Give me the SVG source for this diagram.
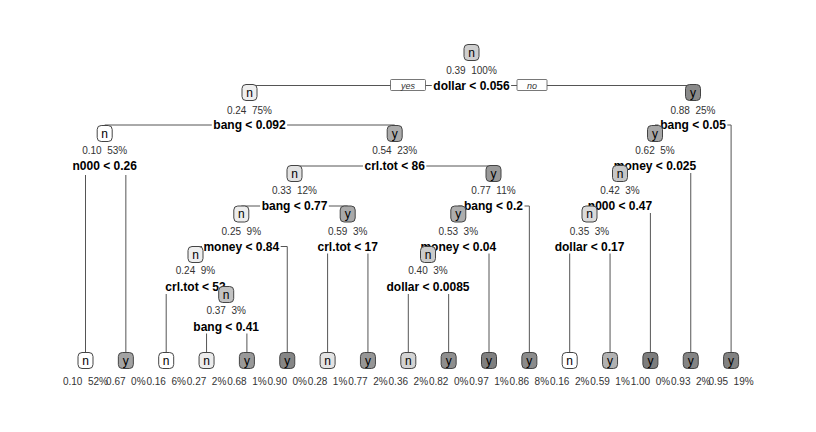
<svg xmlns="http://www.w3.org/2000/svg" width="816" height="432" viewBox="0 0 816 432">
<style>
text{font-family:"Liberation Sans",Arial,sans-serif}
.e{fill:none;stroke:#555;stroke-width:1}
.yn{fill:#fff;stroke:#555;stroke-width:0.8}
.ynt{font-size:9px;font-style:italic;fill:#333;text-anchor:middle}
.b{stroke:#444;stroke-width:1}
.c{font-size:12px;fill:#000;text-anchor:middle}
.s{font-size:10px;fill:#333;text-anchor:middle;white-space:pre}
.sp{font-size:12px;font-weight:bold;fill:#000;text-anchor:middle}
.bg{fill:#fff}
</style>
<rect width="816" height="432" fill="#fff"/>
<g id="connectors">
<path class="e" d="M471.5,85.5H249.5V92.5"/>
<path class="e" d="M471.5,85.5H693V92.5"/>
<path class="e" d="M249.5,125H104.7V133.5"/>
<path class="e" d="M249.5,125H394.7V133.5"/>
<path class="e" d="M693,125H655V133.5"/>
<path class="e" d="M693,125H731.1V360.5"/>
<path class="e" d="M104.7,166H85.5V360.5"/>
<path class="e" d="M104.7,166H125.85V360.5"/>
<path class="e" d="M394.7,166H294.5V173.5"/>
<path class="e" d="M394.7,166H493.5V173.5"/>
<path class="e" d="M655,166H620V173.5"/>
<path class="e" d="M655,166H690.75V360.5"/>
<path class="e" d="M294.5,206H241.3V214"/>
<path class="e" d="M294.5,206H347.7V214"/>
<path class="e" d="M493.5,206H458.3V214"/>
<path class="e" d="M493.5,206H529.35V360.5"/>
<path class="e" d="M620,206H589.5V214"/>
<path class="e" d="M620,206H650.4V360.5"/>
<path class="e" d="M241.3,246.5H195.5V254.5"/>
<path class="e" d="M241.3,246.5H287.25V360.5"/>
<path class="e" d="M347.7,246.5H327.6V360.5"/>
<path class="e" d="M347.7,246.5H367.95V360.5"/>
<path class="e" d="M458.3,246.5H428V254.5"/>
<path class="e" d="M458.3,246.5H489V360.5"/>
<path class="e" d="M589.5,246.5H569.7V360.5"/>
<path class="e" d="M589.5,246.5H610.05V360.5"/>
<path class="e" d="M195.5,287H166.2V360.5"/>
<path class="e" d="M195.5,287H226.2V294.5"/>
<path class="e" d="M428,287H408.3V360.5"/>
<path class="e" d="M428,287H448.65V360.5"/>
<path class="e" d="M226.2,326.5H206.55V360.5"/>
<path class="e" d="M226.2,326.5H246.9V360.5"/>
<rect class="yn" x="390.5" y="79.5" width="35" height="11" rx="1"/>
<text class="ynt" x="408" y="88.5">yes</text>
<rect class="yn" x="517" y="79.5" width="30" height="11" rx="1"/>
<text class="ynt" x="532" y="88.5">no</text>
</g>
<g id="node1">
<rect class="b" x="464" y="44.5" width="15" height="16" rx="4" fill="#cfcfcf"/>
<text class="c" x="471.5" y="56.8">n</text>
<text class="s" x="471.5" y="74">0.39  100%</text>
<rect class="bg" x="431.8" y="78.5" width="79.3" height="14"/>
<text class="sp" x="471.5" y="89.8">dollar &lt; 0.056</text>
</g>
<g id="node2">
<rect class="b" x="242" y="84.5" width="15" height="16" rx="4" fill="#efefef"/>
<text class="c" x="249.5" y="96.8">n</text>
<text class="s" x="249.5" y="113.5">0.24  75%</text>
<rect class="bg" x="211.8" y="118" width="75.3" height="14"/>
<text class="sp" x="249.5" y="129.3">bang &lt; 0.092</text>
</g>
<g id="node3">
<rect class="b" x="685.5" y="84.5" width="15" height="16" rx="4" fill="#8a8a8a"/>
<text class="c" x="693" y="96.8">y</text>
<text class="s" x="693" y="113.5">0.88  25%</text>
<rect class="bg" x="658.6" y="118" width="68.7" height="14"/>
<text class="sp" x="693" y="129.3">bang &lt; 0.05</text>
</g>
<g id="node4">
<rect class="b" x="97.2" y="125.5" width="15" height="16" rx="4" fill="#ffffff"/>
<text class="c" x="104.7" y="137.8">n</text>
<text class="s" x="104.7" y="153.5">0.10  53%</text>
<rect class="bg" x="71" y="159" width="67.3" height="16"/>
<text class="sp" x="104.7" y="170.3">n000 &lt; 0.26</text>
</g>
<g id="node5">
<rect class="b" x="387.2" y="125.5" width="15" height="16" rx="4" fill="#ababab"/>
<text class="c" x="394.7" y="137.8">y</text>
<text class="s" x="394.7" y="153.5">0.54  23%</text>
<rect class="bg" x="363" y="159" width="63.3" height="14"/>
<text class="sp" x="394.7" y="170.3">crl.tot &lt; 86</text>
</g>
<g id="node6">
<rect class="b" x="647.5" y="125.5" width="15" height="16" rx="4" fill="#a6a6a6"/>
<text class="c" x="655" y="137.8">y</text>
<text class="s" x="655" y="153.5">0.62  5%</text>
<rect class="bg" x="612.3" y="159" width="85.3" height="14"/>
<text class="sp" x="655" y="170.3">money &lt; 0.025</text>
</g>
<g id="node10">
<rect class="b" x="287" y="165.5" width="15" height="16" rx="4" fill="#e2e2e2"/>
<text class="c" x="294.5" y="177.8">n</text>
<text class="s" x="294.5" y="194">0.33  12%</text>
<rect class="bg" x="260.1" y="199" width="68.7" height="14"/>
<text class="sp" x="294.5" y="210.3">bang &lt; 0.77</text>
</g>
<g id="node11">
<rect class="b" x="486" y="165.5" width="15" height="16" rx="4" fill="#999999"/>
<text class="c" x="493.5" y="177.8">y</text>
<text class="s" x="493.5" y="194">0.77  11%</text>
<rect class="bg" x="462.5" y="199" width="62" height="14"/>
<text class="sp" x="493.5" y="210.3">bang &lt; 0.2</text>
</g>
<g id="node12">
<rect class="b" x="612.5" y="165.5" width="15" height="16" rx="4" fill="#c6c6c6"/>
<text class="c" x="620" y="177.8">n</text>
<text class="s" x="620" y="194">0.42  3%</text>
<rect class="bg" x="586.3" y="199" width="67.3" height="14"/>
<text class="sp" x="620" y="210.3">n000 &lt; 0.47</text>
</g>
<g id="node20">
<rect class="b" x="233.8" y="206" width="15" height="16" rx="4" fill="#ededed"/>
<text class="c" x="241.3" y="218.3">n</text>
<text class="s" x="241.3" y="234.5">0.25  9%</text>
<rect class="bg" x="202" y="239.5" width="78.7" height="14"/>
<text class="sp" x="241.3" y="250.8">money &lt; 0.84</text>
</g>
<g id="node21">
<rect class="b" x="340.2" y="206" width="15" height="16" rx="4" fill="#a9a9a9"/>
<text class="c" x="347.7" y="218.3">y</text>
<text class="s" x="347.7" y="234.5">0.59  3%</text>
<rect class="bg" x="316" y="239.5" width="63.3" height="14"/>
<text class="sp" x="347.7" y="250.8">crl.tot &lt; 17</text>
</g>
<g id="node22">
<rect class="b" x="450.8" y="206" width="15" height="16" rx="4" fill="#adadad"/>
<text class="c" x="458.3" y="218.3">y</text>
<text class="s" x="458.3" y="234.5">0.53  3%</text>
<rect class="bg" x="419" y="239.5" width="78.7" height="14"/>
<text class="sp" x="458.3" y="250.8">money &lt; 0.04</text>
</g>
<g id="node24">
<rect class="b" x="582" y="206" width="15" height="16" rx="4" fill="#dadada"/>
<text class="c" x="589.5" y="218.3">n</text>
<text class="s" x="589.5" y="234.5">0.35  3%</text>
<rect class="bg" x="553.2" y="239.5" width="72.7" height="14"/>
<text class="sp" x="589.5" y="250.8">dollar &lt; 0.17</text>
</g>
<g id="node40">
<rect class="b" x="188" y="246.5" width="15" height="16" rx="4" fill="#efefef"/>
<text class="c" x="195.5" y="258.8">n</text>
<text class="s" x="195.5" y="274">0.24  9%</text>
<rect class="bg" x="163.8" y="280" width="63.3" height="14"/>
<text class="sp" x="195.5" y="291.3">crl.tot &lt; 53</text>
</g>
<g id="node44">
<rect class="b" x="420.5" y="246.5" width="15" height="16" rx="4" fill="#cbcbcb"/>
<text class="c" x="428" y="258.8">n</text>
<text class="s" x="428" y="274">0.40  3%</text>
<rect class="bg" x="385" y="280" width="86" height="14"/>
<text class="sp" x="428" y="291.3">dollar &lt; 0.0085</text>
</g>
<g id="node81">
<rect class="b" x="218.7" y="286.5" width="15" height="16" rx="4" fill="#c2c2c2"/>
<text class="c" x="226.2" y="298.8">n</text>
<text class="s" x="226.2" y="314">0.37  3%</text>
<rect class="bg" x="191.8" y="319.5" width="68.7" height="14"/>
<text class="sp" x="226.2" y="330.8">bang &lt; 0.41</text>
</g>
<g id="leaf1"><rect class="b" x="78" y="352.5" width="15" height="16" rx="4" fill="#ffffff"/><text class="c" x="85.5" y="364.8">n</text><text class="s" x="85.5" y="384.5">0.10  52%</text></g>
<g id="leaf2"><rect class="b" x="118.35" y="352.5" width="15" height="16" rx="4" fill="#a3a3a3"/><text class="c" x="125.85" y="364.8">y</text><text class="s" x="125.85" y="384.5">0.67  0%</text></g>
<g id="leaf3"><rect class="b" x="158.7" y="352.5" width="15" height="16" rx="4" fill="#ffffff"/><text class="c" x="166.2" y="364.8">n</text><text class="s" x="166.2" y="384.5">0.16  6%</text></g>
<g id="leaf4"><rect class="b" x="199.05" y="352.5" width="15" height="16" rx="4" fill="#ececec"/><text class="c" x="206.55" y="364.8">n</text><text class="s" x="206.55" y="384.5">0.27  2%</text></g>
<g id="leaf5"><rect class="b" x="239.4" y="352.5" width="15" height="16" rx="4" fill="#999999"/><text class="c" x="246.9" y="364.8">y</text><text class="s" x="246.9" y="384.5">0.68  1%</text></g>
<g id="leaf6"><rect class="b" x="279.75" y="352.5" width="15" height="16" rx="4" fill="#868686"/><text class="c" x="287.25" y="364.8">y</text><text class="s" x="287.25" y="384.5">0.90  0%</text></g>
<g id="leaf7"><rect class="b" x="320.1" y="352.5" width="15" height="16" rx="4" fill="#e3e3e3"/><text class="c" x="327.6" y="364.8">n</text><text class="s" x="327.6" y="384.5">0.28  1%</text></g>
<g id="leaf8"><rect class="b" x="360.45" y="352.5" width="15" height="16" rx="4" fill="#969696"/><text class="c" x="367.95" y="364.8">y</text><text class="s" x="367.95" y="384.5">0.77  2%</text></g>
<g id="leaf9"><rect class="b" x="400.8" y="352.5" width="15" height="16" rx="4" fill="#d3d3d3"/><text class="c" x="408.3" y="364.8">n</text><text class="s" x="408.3" y="384.5">0.36  2%</text></g>
<g id="leaf10"><rect class="b" x="441.15" y="352.5" width="15" height="16" rx="4" fill="#8e8e8e"/><text class="c" x="448.65" y="364.8">y</text><text class="s" x="448.65" y="384.5">0.82  0%</text></g>
<g id="leaf11"><rect class="b" x="481.5" y="352.5" width="15" height="16" rx="4" fill="#7f7f7f"/><text class="c" x="489" y="364.8">y</text><text class="s" x="489" y="384.5">0.97  1%</text></g>
<g id="leaf12"><rect class="b" x="521.85" y="352.5" width="15" height="16" rx="4" fill="#8b8b8b"/><text class="c" x="529.35" y="364.8">y</text><text class="s" x="529.35" y="384.5">0.86  8%</text></g>
<g id="leaf13"><rect class="b" x="562.2" y="352.5" width="15" height="16" rx="4" fill="#ffffff"/><text class="c" x="569.7" y="364.8">n</text><text class="s" x="569.7" y="384.5">0.16  2%</text></g>
<g id="leaf14"><rect class="b" x="602.55" y="352.5" width="15" height="16" rx="4" fill="#b1b1b1"/><text class="c" x="610.05" y="364.8">y</text><text class="s" x="610.05" y="384.5">0.59  1%</text></g>
<g id="leaf15"><rect class="b" x="642.9" y="352.5" width="15" height="16" rx="4" fill="#7d7d7d"/><text class="c" x="650.4" y="364.8">y</text><text class="s" x="650.4" y="384.5">1.00  0%</text></g>
<g id="leaf16"><rect class="b" x="683.25" y="352.5" width="15" height="16" rx="4" fill="#848484"/><text class="c" x="690.75" y="364.8">y</text><text class="s" x="690.75" y="384.5">0.93  2%</text></g>
<g id="leaf17"><rect class="b" x="723.6" y="352.5" width="15" height="16" rx="4" fill="#828282"/><text class="c" x="731.1" y="364.8">y</text><text class="s" x="731.1" y="384.5">0.95  19%</text></g>
</svg>
